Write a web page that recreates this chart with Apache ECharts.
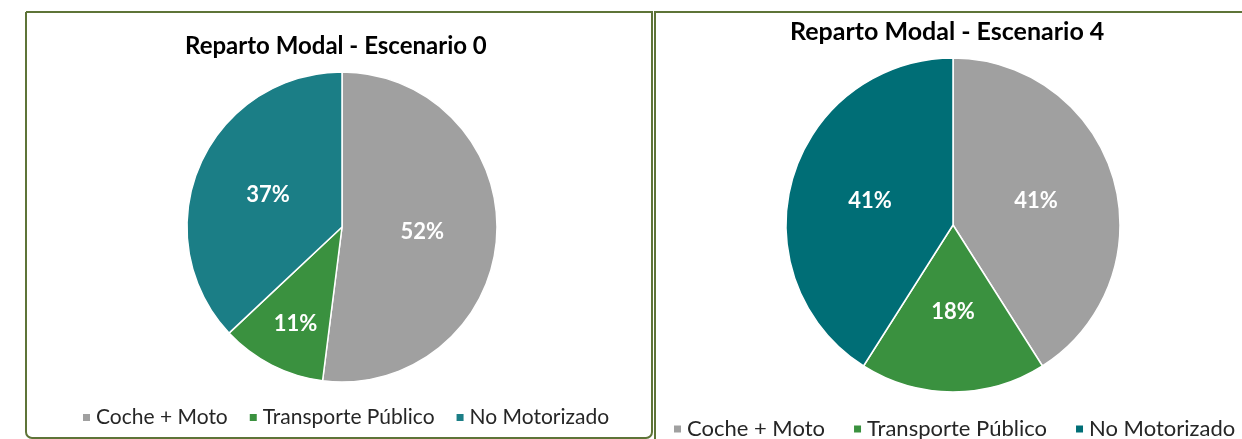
<!DOCTYPE html>
<html>
<head>
<meta charset="utf-8">
<script src="https://cdn.jsdelivr.net/npm/echarts@6/dist/echarts.min.js"></script>
<style>
  html, body { margin: 0; padding: 0; background: #ffffff; }
  #chart { width: 1242px; height: 439px; }
</style>
</head>
<body>
<div id="chart"></div>
<script>
// Modal split per scenario (percent of trips)
const categories = ['Coche + Moto', 'Transporte Público', 'No Motorizado'];
const escenario0 = [52, 11, 37];
const escenario4 = [41, 18, 41];
const titles = ['Reparto Modal - Escenario 0', 'Reparto Modal - Escenario 4'];

const FONT = 'Lato, "Open Sans", sans-serif';
const GRAY = '#A0A0A0';
const GREEN = '#3A913F';
const TEAL0 = '#1B7E86';
const TEAL4 = '#006E76';
const FRAME = '#5E7438';

function pieData(values, colors, labelOffsets) {
  return categories.map((name, i) => ({
    name: name,
    value: values[i],
    itemStyle: { color: colors[i] },
    label: labelOffsets[i] ? { offset: labelOffsets[i] } : undefined
  }));
}

function legendData(colors) {
  return categories.map((name, i) => ({ name: name, itemStyle: { color: colors[i] } }));
}

const labelStyle = {
  show: true,
  position: 'inside',
  formatter: '{d}%',
  color: '#ffffff',
  fontFamily: FONT,
  fontWeight: 'bold',
  fontSize: 22
};

const colors0 = [GRAY, GREEN, TEAL0];
const colors4 = [GRAY, GREEN, TEAL4];

const chart = echarts.init(document.getElementById('chart'), null, { renderer: 'canvas' });

chart.setOption({
  backgroundColor: '#ffffff',
  animation: false,
  graphic: [
    {
      type: 'rect', z: -10,
      shape: { x: 26, y: 12, width: 626, height: 426, r: [0, 0, 6, 6] },
      style: { fill: '#ffffff', stroke: FRAME, lineWidth: 2 }
    },
    {
      type: 'rect', z: -10,
      shape: { x: 655, y: 12, width: 620, height: 450 },
      style: { fill: '#ffffff', stroke: FRAME, lineWidth: 2 }
    },
    {
      type: 'text', left: 185, top: 34,
      style: { text: titles[0], fill: '#000000', font: 'bold 24px ' + FONT }
    },
    {
      type: 'text', left: 790, top: 19,
      style: { text: titles[1], fill: '#000000', font: 'bold 25px ' + FONT }
    }
  ],
  legend: [
    {
      left: 76, top: 402, width: 600,
      icon: 'rect', itemWidth: 9, itemHeight: 9, itemGap: 20,
      selectedMode: false,
      textStyle: { fontFamily: FONT, fontSize: 21, color: '#262626' },
      data: legendData(colors0)
    },
    {
      left: 667, top: 413, width: 800,
      icon: 'rect', itemWidth: 9, itemHeight: 9, itemGap: 27,
      selectedMode: false,
      textStyle: { fontFamily: FONT, fontSize: 22, color: '#262626' },
      data: legendData(colors4)
    }
  ],
  series: [
    {
      type: 'pie',
      center: [342, 227],
      radius: 155,
      startAngle: 90,
      clockwise: true,
      label: labelStyle,
      labelLine: { show: false },
      itemStyle: { borderColor: '#ffffff', borderWidth: 1.5 },
      emphasis: { disabled: true },
      data: pieData(escenario0, colors0, [null, [-10, 25], null])
    },
    {
      type: 'pie',
      center: [953, 225],
      radius: 167,
      startAngle: 90,
      clockwise: true,
      label: labelStyle,
      labelLine: { show: false },
      itemStyle: { borderColor: '#ffffff', borderWidth: 1.5 },
      emphasis: { disabled: true },
      data: pieData(escenario4, colors4, [null, null, null])
    }
  ]
});
</script>
</body>
</html>
